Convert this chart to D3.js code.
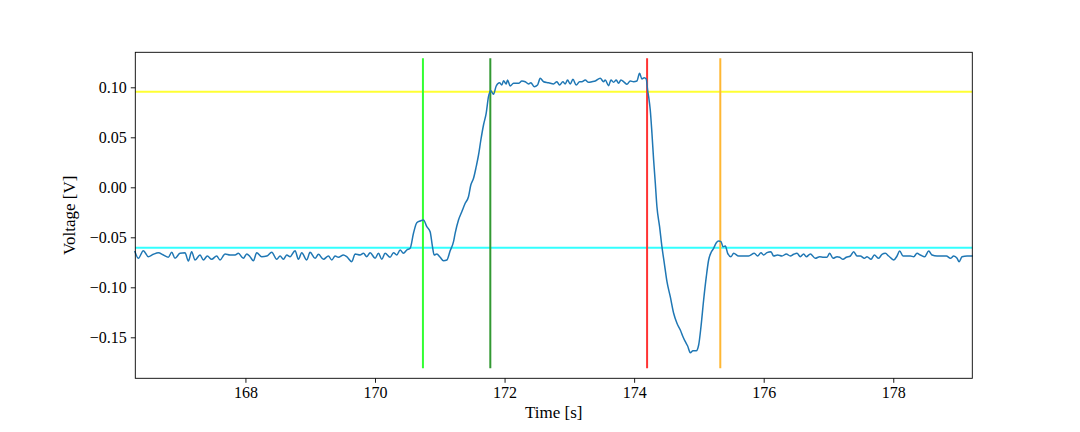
<!DOCTYPE html>
<html>
<head>
<meta charset="utf-8">
<script src="https://cdn.jsdelivr.net/npm/d3@7"></script>
<style>
  html, body { margin: 0; padding: 0; background: #fff; }
  svg { display: block; }
  text { font-family: "Liberation Serif", "DejaVu Serif", serif; fill: #000; }
</style>
</head>
<body>
<svg id="chart" width="1080" height="432"></svg>
<script>
// ---- data ----
const times = [
  166.295,166.347,166.424,166.501,166.578,166.656,166.733,166.810,166.862,166.913,
  166.990,167.067,167.119,167.170,167.222,167.299,167.351,167.412,167.479,167.556,
  167.608,167.685,167.762,167.840,167.891,167.968,168.020,168.071,168.123,168.174,
  168.251,168.329,168.406,168.483,168.535,168.586,168.638,168.689,168.766,168.818,
  168.869,168.946,168.998,169.075,169.127,169.204,169.281,169.333,169.384,169.435,
  169.513,169.564,169.641,169.693,169.770,169.822,169.873,169.925,170.002,170.053,
  170.105,170.156,170.233,170.285,170.336,170.388,170.439,
  170.491,170.542,170.594,170.645,170.697,170.748,170.800,170.851,170.887,170.913,
  170.954,171.006,171.057,171.109,171.160,171.212,
  171.237,171.289,171.340,171.392,171.443,171.479,171.521,171.562,171.598,171.634,
  171.675,171.716,171.752,171.788,171.829,171.871,171.922,171.958,171.984,172.025,
  172.046,172.087,172.138,172.216,172.267,172.319,172.370,172.406,172.457,172.509,
  172.550,172.602,172.679,172.756,172.808,172.849,172.900,172.936,172.972,173.013,
  173.055,173.106,173.158,
  173.194,173.245,173.297,173.348,173.400,173.477,173.528,173.554,173.605,173.642,
  173.683,173.724,173.760,173.796,173.848,173.889,173.940,173.992,174.043,174.084,
  174.120,174.156,174.187,
  174.208,174.224,174.249,174.275,174.301,174.327,174.352,174.393,174.429,174.466,
  174.507,174.558,174.610,174.661,174.713,174.754,174.790,174.826,174.867,174.908,
  174.960,174.996,175.032,175.073,175.114,175.150,175.186,175.227,175.269,175.305,
  175.341,175.372,175.408,175.444,175.495,
  175.536,175.613,175.690,175.767,175.855,175.906,175.958,175.999,176.050,176.112,
  176.153,176.215,176.282,176.349,176.411,176.462,176.514,176.565,176.617,176.658,
  176.720,176.797,176.864,176.926,176.977,177.018,177.070,177.132,177.173,177.224,
  177.276,177.338,177.389,177.441,177.492,177.554,177.595,177.657,177.708,177.775,
  177.826,177.878,177.929,178.007,178.058,178.099,178.151,178.212,178.264,178.316,
  178.367,178.419,178.485,178.547,178.599,178.676,178.753,178.820,178.882,178.933,
  178.985,179.016,179.062,179.139,179.216
];
const voltages = [
  -0.0644,-0.0710,-0.0634,-0.0694,-0.0670,-0.0654,-0.0677,-0.0700,-0.0650,-0.0710,
  -0.0660,-0.0654,-0.0737,-0.0644,-0.0727,-0.0677,-0.0727,-0.0687,-0.0720,-0.0687,
  -0.0727,-0.0667,-0.0677,-0.0677,-0.0660,-0.0710,-0.0667,-0.0694,-0.0734,-0.0654,
  -0.0694,-0.0687,-0.0650,-0.0720,-0.0687,-0.0720,-0.0677,-0.0694,-0.0634,-0.0720,
  -0.0654,-0.0727,-0.0650,-0.0710,-0.0670,-0.0720,-0.0687,-0.0727,-0.0687,-0.0700,
  -0.0677,-0.0694,-0.0744,-0.0667,-0.0677,-0.0660,-0.0694,-0.0654,-0.0710,-0.0660,
  -0.0720,-0.0660,-0.0700,-0.0654,-0.0677,-0.0627,-0.0660,
  -0.0627,-0.0610,-0.0460,-0.0354,-0.0337,-0.0327,-0.0394,-0.0444,-0.0594,-0.0677,
  -0.0667,-0.0700,-0.0734,-0.0727,-0.0635,-0.0544,
  -0.0460,-0.0327,-0.0244,-0.0160,-0.0094,0.0023,0.0090,0.0206,0.0323,0.0473,
  0.0623,0.0740,0.0906,0.0966,0.0930,0.1013,0.1046,0.1023,0.1066,0.1033,
  0.1073,0.1013,0.1040,0.1040,0.1063,0.1056,0.1033,0.1046,0.1006,0.1023,
  0.1090,0.1056,0.1046,0.1033,0.1056,0.1023,0.1056,0.1033,0.1073,0.1033,
  0.1080,0.1023,0.1056,
  0.1056,0.1073,0.1050,0.1056,0.1063,0.1090,0.1056,0.1073,0.1016,0.1073,
  0.1050,0.1073,0.1040,0.1073,0.1050,0.1030,0.1063,0.1056,0.1063,0.1140,
  0.1083,0.1096,0.1083,
  0.0973,0.0906,0.0773,0.0540,0.0273,0.0040,-0.0194,-0.0394,-0.0594,-0.0760,
  -0.0944,-0.1094,-0.1260,-0.1360,-0.1427,-0.1494,-0.1544,-0.1587,-0.1654,-0.1634,
  -0.1634,-0.1577,-0.1394,-0.1127,-0.0894,-0.0727,-0.0654,-0.0610,-0.0554,-0.0537,
  -0.0543,-0.0594,-0.0587,-0.0660,-0.0694,
  -0.0660,-0.0687,-0.0687,-0.0687,-0.0660,-0.0687,-0.0654,-0.0677,-0.0654,-0.0644,
  -0.0687,-0.0677,-0.0687,-0.0667,-0.0687,-0.0670,-0.0660,-0.0694,-0.0667,-0.0694,
  -0.0667,-0.0710,-0.0694,-0.0700,-0.0700,-0.0660,-0.0710,-0.0694,-0.0700,-0.0720,
  -0.0700,-0.0687,-0.0644,-0.0687,-0.0687,-0.0710,-0.0694,-0.0720,-0.0677,-0.0710,
  -0.0670,-0.0660,-0.0687,-0.0727,-0.0687,-0.0637,-0.0687,-0.0687,-0.0687,-0.0694,
  -0.0660,-0.0677,-0.0694,-0.0637,-0.0677,-0.0687,-0.0687,-0.0687,-0.0710,-0.0687,
  -0.0710,-0.0744,-0.0694,-0.0687,-0.0687
];
// horizontal threshold lines
const hLineValues = [0.0956, -0.0604];
const hLineColors = ["#ffff33", "#33ffff"];
// vertical event lines
const vLineTimes = [170.74, 171.78, 174.20, 175.33];
const vLineColors = ["#33ff33", "#339933", "#ff3333", "#ffb733"];
const vLineRange = [-0.181, 0.129];
const xTicks = [168, 170, 172, 174, 176, 178];
const yTicks = [-0.15, -0.10, -0.05, 0.00, 0.05, 0.10];
const xDomain = [166.30, 179.22];
const yDomain = [-0.191, 0.135];

// ---- drawing ----
const svg = d3.select("#chart");
const L = 135.3, R = 972.3, T = 52.3, B = 378.3;
const x = d3.scaleLinear().domain(xDomain).range([L, R]);
const y = d3.scaleLinear().domain(yDomain).range([B, T]);

const data = times.map((t, i) => ({t, v: voltages[i]}));

const g = svg.append("g");

// horizontal lines
hLineValues.forEach((v, i) => {
  g.append("line")
    .attr("x1", L).attr("x2", R)
    .attr("y1", y(v)).attr("y2", y(v))
    .attr("stroke", hLineColors[i]).attr("stroke-width", 2);
});
// vertical lines
vLineTimes.forEach((t, i) => {
  g.append("line")
    .attr("x1", x(t)).attr("x2", x(t))
    .attr("y1", y(vLineRange[0])).attr("y2", y(vLineRange[1]))
    .attr("stroke", vLineColors[i]).attr("stroke-width", 2);
});

// signal
const line = d3.line().x(d => x(d.t)).y(d => y(d.v)).curve(d3.curveMonotoneX);
g.append("path")
  .datum(data)
  .attr("d", line)
  .attr("fill", "none")
  .attr("stroke", "#1f77b4")
  .attr("stroke-width", 1.5)
  .attr("stroke-linejoin", "round")
  .attr("stroke-linecap", "square");

// frame
svg.append("rect")
  .attr("x", L).attr("y", T).attr("width", R - L).attr("height", B - T)
  .attr("fill", "none").attr("stroke", "#000").attr("stroke-width", 0.9);

// axes
const fmtY = v => {
  const s = Math.abs(v).toFixed(2);
  return (v < -1e-9 ? "\u2212" : "") + s;
};
const xAxis = d3.axisBottom(x).tickValues(xTicks).tickSize(4.5).tickPadding(4).tickFormat(d3.format("d"));
const yAxis = d3.axisLeft(y).tickValues(yTicks).tickSize(4.5).tickPadding(4).tickFormat(fmtY);

const gx = svg.append("g").attr("transform", `translate(0,${B})`).call(xAxis);
const gy = svg.append("g").attr("transform", `translate(${L},0)`).call(yAxis);
[gx, gy].forEach(a => {
  a.select(".domain").remove();
  a.selectAll(".tick line").attr("stroke", "#000").attr("stroke-width", 0.9);
  a.selectAll(".tick text").attr("font-size", 16).attr("fill", "#000")
    .style("font-family", '"Liberation Serif", "DejaVu Serif", serif');
});

// axis titles
svg.append("text")
  .attr("x", (L + R) / 2).attr("y", 418)
  .attr("text-anchor", "middle").attr("font-size", 17)
  .text("Time [s]");
svg.append("text")
  .attr("transform", `translate(75,${(T + B) / 2}) rotate(-90)`)
  .attr("text-anchor", "middle").attr("font-size", 17)
  .text("Voltage [V]");
</script>
</body>
</html>
